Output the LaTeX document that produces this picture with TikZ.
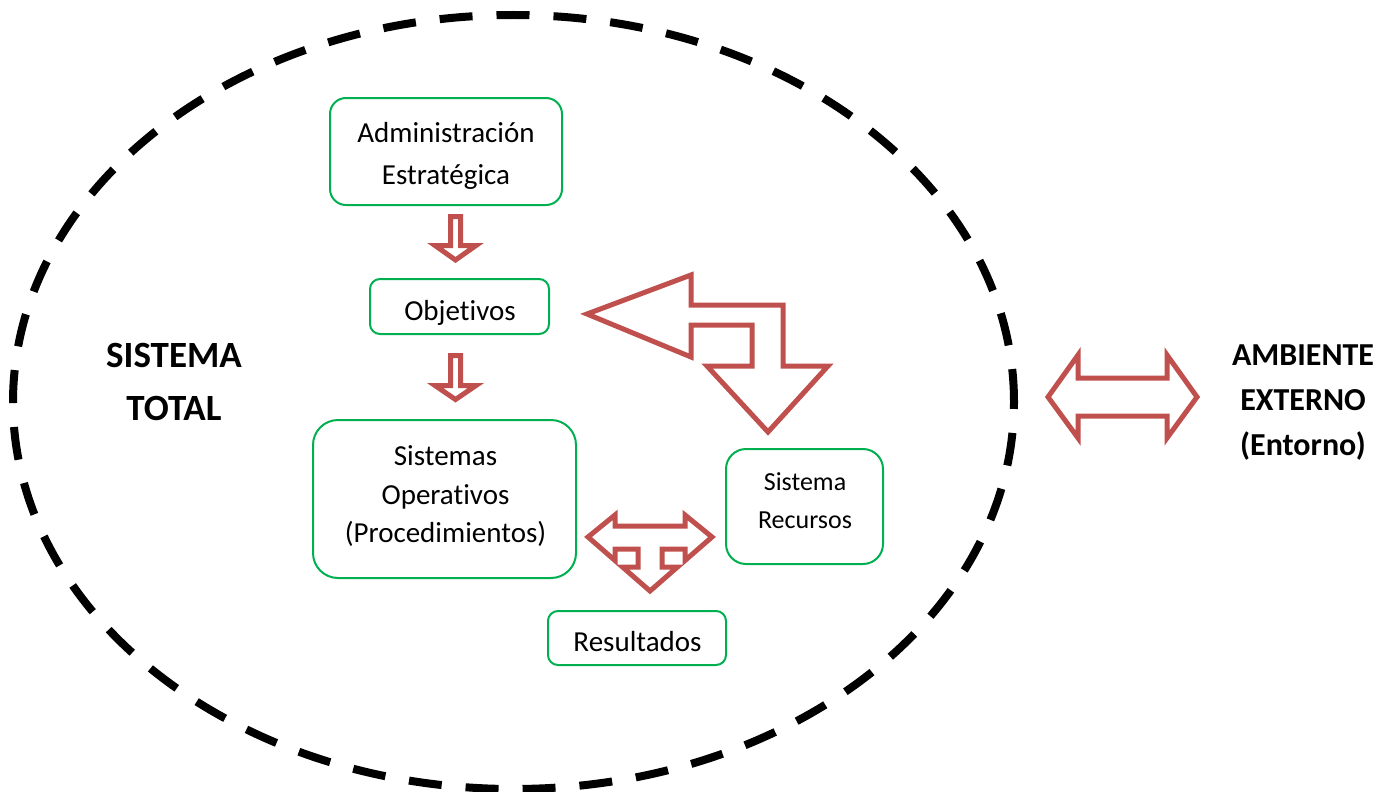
\documentclass[tikz,border=0pt]{standalone}
\usepackage{fontspec}
\setmainfont{Carlito}[Ligatures=NoCommon]
\definecolor{arrowred}{HTML}{C0504D}
\definecolor{boxgreen}{HTML}{00B050}
\begin{document}
\begin{tikzpicture}[x=1pt,y=-1pt,
  box/.style={draw=boxgreen, line width=2pt, rounded corners=#1, inner sep=0pt},
  box/.default=15pt,
  lbl/.style={inner sep=0pt, align=center, font=\fontsize{29}{42}\selectfont},
  blockarrow/.style={draw=arrowred, line width=5pt, fill=white, miter limit=10},
  boundary/.style={draw=black, line width=8pt, dash pattern=on 33pt off 24pt}
]
\useasboundingbox (0,0) rectangle (1389,792);

% system boundary
\path[boundary] (513.5,402) ellipse [x radius=500.5pt, y radius=387pt];

% boxes
\node[box=16pt, minimum width=232pt, minimum height=107pt] (adm) at (446,151.5) {};
\node[box=10pt, minimum width=179pt, minimum height=55pt] (obj) at (459.5,306.5) {};
\node[box=25pt, minimum width=263pt, minimum height=158pt] (ops) at (444.5,499) {};
\node[box=20pt, minimum width=157pt, minimum height=115pt] (rec) at (804.5,506.5) {};
\node[box=10pt, minimum width=178pt, minimum height=54pt] (res) at (637,638) {};

% box texts
\node[lbl] (admT) at (446,155.75) {Administración\\Estratégica};
\node[lbl] (objT) at (460,312.75) {Objetivos};
\node[lbl, font=\fontsize{29}{38.5}\selectfont] (opsT) at (445.5,496.5) {Sistemas\\Operativos\\(Procedimientos)};
\node[lbl, font=\fontsize{26}{38}\selectfont] (recT) at (805,500.5) {Sistema\\Recursos};
\node[lbl] (resT) at (637.5,641.85) {Resultados};

% side labels
\node[lbl, font=\bfseries\fontsize{37}{53}\selectfont] (total) at (174,381.5) {SISTEMA\\TOTAL};
\node[lbl, font=\bfseries\fontsize{32}{45}\selectfont] (amb) at (1303,402.4) {AMBIENTE\\EXTERNO\\(Entorno)};

% small down arrows
\path[blockarrow] (450.5,216.5) -- (460.5,216.5) -- (460.5,245.5) -- (476,245.5)
  -- (455.5,260) -- (435,245.5) -- (450.5,245.5) -- cycle;
\path[blockarrow] (450.5,355.5) -- (460.5,355.5) -- (460.5,385.5) -- (476,385.5)
  -- (455.5,399.5) -- (435,385.5) -- (450.5,385.5) -- cycle;

% bent arrow (left and down)
\path[blockarrow] (587,314) -- (691,275) -- (691,305) -- (783,305) -- (783,366)
  -- (828,366) -- (768,432) -- (707,366) -- (752,366) -- (752,325) -- (691,325)
  -- (691,357) -- cycle;

% three-way arrow (left, right, down)
\path[blockarrow] (588,537) -- (615,515) -- (615,526) -- (685,526) -- (685,515)
  -- (712,537) -- (685,560.5) -- (685,549) -- (662,549) -- (662,567) -- (677.5,567)
  -- (650,591) -- (622.5,567) -- (638,567) -- (638,549) -- (615,549) -- (615,560.5)
  -- cycle;

% double arrow to the environment
\path[blockarrow] (1048,397) -- (1078,355) -- (1078,378) -- (1167,378) -- (1167,355)
  -- (1197,397) -- (1167,438) -- (1167,416) -- (1078,416) -- (1078,438) -- cycle;
\end{tikzpicture}
\end{document}
